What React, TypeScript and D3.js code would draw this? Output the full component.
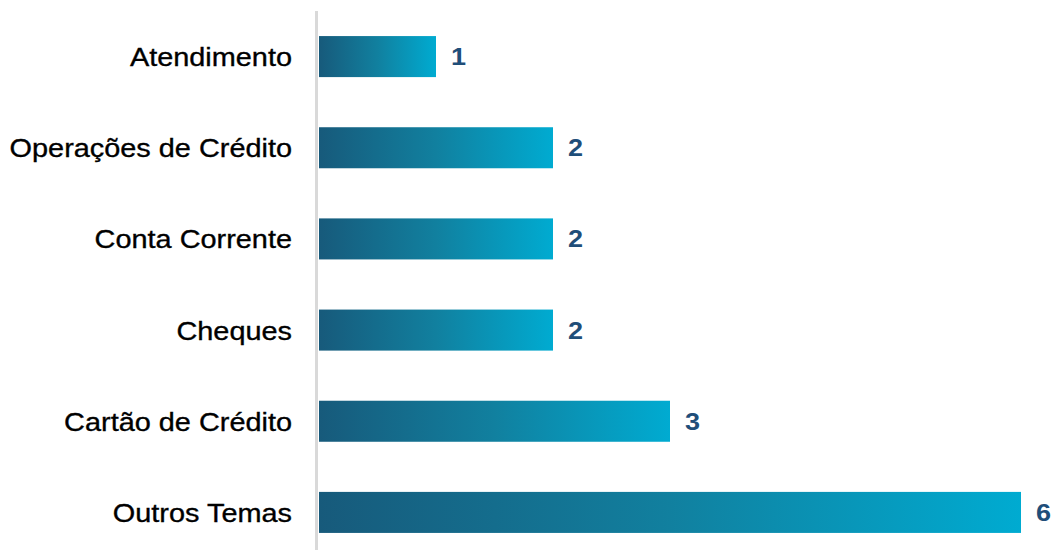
import React from "react";
import * as d3 from "d3";

const categories = ["Atendimento", "Operações de Crédito", "Conta Corrente", "Cheques", "Cartão de Crédito", "Outros Temas"];
const values = [1, 2, 2, 2, 3, 6];

const W = 1054;
const H = 550;

export default function App() {
  const x = d3.scaleLinear().domain([0, 6]).range([319, 1021]);
  const y = d3.scaleBand<string>().domain(categories).range([11, 558]).paddingInner(0.55).paddingOuter(0.275);
  return (
    <svg width={W} height={H} style={{ position: "fixed", left: 0, top: 0 }} fontFamily="'Liberation Sans', Arial, sans-serif">
      <defs>
        <linearGradient id="barGrad" x1="0" x2="1" y1="0" y2="0">
          <stop offset="0" stopColor="#175A7B" />
          <stop offset="0.5" stopColor="#11809F" />
          <stop offset="1" stopColor="#00ABD1" />
        </linearGradient>
      </defs>
      <rect x={0} y={0} width={W} height={H} fill="#fff" />
      {categories.map((c, i) => {
        const cy = (y(c) as number) + y.bandwidth() / 2;
        return (
          <g key={c}>
            <rect x={x(0)} y={y(c)} width={x(values[i]) - x(0)} height={y.bandwidth()} fill="url(#barGrad)" />
            <text
              transform={`translate(292,${cy}) scale(1.09,1)`}
              dy="0.36em"
              textAnchor="end"
              fontSize={26.5}
              fill="#000"
              stroke="#000"
              strokeWidth={0.35}
            >
              {c}
            </text>
            <text
              transform={`translate(${x(values[i]) + 15},${cy}) scale(1.15,1)`}
              dy="0.36em"
              textAnchor="start"
              fontSize={23.5}
              fontWeight="bold"
              fill="#1F4E79"
            >
              {values[i]}
            </text>
          </g>
        );
      })}
      <line x1={316.5} x2={316.5} y1={11} y2={H} stroke="#D9D9D9" strokeWidth={3} />
    </svg>
  );
}
